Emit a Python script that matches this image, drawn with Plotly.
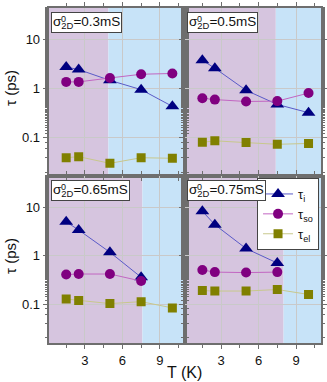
import plotly.graph_objects as go

# temperatures (K)
temps = [1.5, 2.5, 5, 7.5, 10]

# panel order: top-left, top-right, bottom-left, bottom-right
sigma_labels = ["0.3mS", "0.5mS", "0.65mS", "0.75mS"]

tau_i = [
    [2.7, 2.4, 1.45, 0.94, 0.43],
    [3.7, 2.56, 0.91, 0.47, 0.32],
    [5.1, 3.45, 1.19, 0.36, None],
    [8.5, 4.45, 1.42, 0.71, None],
]
tau_so = [
    [1.35, 1.35, 1.62, 1.93, 2.0],
    [0.63, 0.59, 0.54, 0.55, 0.80],
    [0.41, 0.42, 0.42, 0.30, None],
    [0.51, 0.46, 0.45, 0.46, None],
]
tau_el = [
    [0.039, 0.041, 0.030, 0.039, 0.038],
    [0.080, 0.086, 0.079, 0.073, 0.076],
    [0.127, 0.119, 0.102, 0.112, 0.083],
    [0.19, 0.186, 0.186, 0.20, 0.158],
]

# temperature where the purple region ends and the blue one begins
boundary = [4.88, 7.38, 7.6, 8.0]

W, H = 327, 382
PURPLE_BG = "#d6c5df"
BLUE_BG = "#c7e3f8"
AXIS_COL = "#6e6e6e"
FONT = "Liberation Sans, Arial, sans-serif"

x_dom = [[49 / W, 186 / W], [186 / W, 323 / W]]
y_dom = [[1 - 176 / H, 1 - 8 / H], [1 - 343 / H, 1 - 176 / H]]
y_rng = [[-1.78, 1.63], [-1.81, 1.66]]

series = [
    ("τ<sub>i</sub>", tau_i, "#000080", "#5a5ac8", "triangle-up", 12),
    ("τ<sub>so</sub>", tau_so, "#800080", "#c266c2", "circle", 10),
    ("τ<sub>el</sub>", tau_el, "#808000", "#c8c88c", "square", 9),
]

fig = go.Figure()
layout = {}
shapes = []
annotations = []

for p in range(4):
    row, col = divmod(p, 2)
    n = p + 1
    xa = "x" if n == 1 else f"x{n}"
    ya = "y" if n == 1 else f"y{n}"
    xkey = "xaxis" if n == 1 else f"xaxis{n}"
    ykey = "yaxis" if n == 1 else f"yaxis{n}"

    layout[xkey] = dict(
        domain=x_dom[col], anchor=ya, range=[0.1, 11.0],
        tickvals=[3, 6, 9], showticklabels=(row == 1),
        ticks="outside", ticklen=4, tickwidth=1, tickcolor=AXIS_COL,
        minor=dict(tickvals=[1.5, 4.5, 7.5, 10.5], ticks="outside", ticklen=3,
                   tickcolor=AXIS_COL, showgrid=False),
        showline=True, linecolor=AXIS_COL, linewidth=2, mirror="ticks",
        showgrid=True, gridcolor="#c9c9c9", gridwidth=1, zeroline=False,
        tickfont=dict(size=13, color="#111", family=FONT),
    )
    layout[ykey] = dict(
        domain=y_dom[row], anchor=xa, type="log", range=y_rng[row],
        tickvals=[0.1, 1, 10], ticktext=["0.1", "1", "10"],
        showticklabels=(col == 0),
        ticks="outside", ticklen=4, tickwidth=1, tickcolor=AXIS_COL,
        minor=dict(ticks="outside", ticklen=2, tickcolor=AXIS_COL, showgrid=False),
        showline=True, linecolor=AXIS_COL, linewidth=2, mirror="ticks",
        showgrid=True, gridcolor="#c9c9c9", gridwidth=1, zeroline=False,
        tickfont=dict(size=13, color="#111", family=FONT),
    )

    shapes.append(dict(type="rect", xref=xa, yref=f"{ya} domain", layer="below",
                       x0=0.1, x1=boundary[p], y0=0, y1=1,
                       fillcolor=PURPLE_BG, line=dict(width=0)))
    shapes.append(dict(type="rect", xref=xa, yref=f"{ya} domain", layer="below",
                       x0=boundary[p], x1=11.0, y0=0, y1=1,
                       fillcolor=BLUE_BG, line=dict(width=0)))

    for name, data, mcol, lcol, sym, size in series:
        fig.add_trace(go.Scatter(
            x=temps, y=data[p], xaxis=xa, yaxis=ya, mode="lines+markers",
            name=name, showlegend=(p == 3), connectgaps=False,
            line=dict(color=lcol, width=1),
            marker=dict(color=mcol, symbol=sym, size=size, line=dict(width=0)),
        ))

    annotations.append(dict(
        text="σ<sub>2D</sub>=" + sigma_labels[p], xref=f"{xa} domain", yref=f"{ya} domain",
        x=0.015, y=0.975, xanchor="left", yanchor="top", showarrow=False,
        font=dict(size=13.5, color="#111", family=FONT),
        bgcolor="white", bordercolor="#444", borderwidth=1, borderpad=1,
    ))
    annotations.append(dict(
        text="0", xref=f"{xa} domain", yref=f"{ya} domain",
        x=0.108, y=0.975, xanchor="center", yanchor="top", showarrow=False,
        font=dict(size=9, color="#111", family=FONT),
    ))

for yc in [88, 256]:
    annotations.append(dict(
        text="τ (ps)", xref="paper", yref="paper", x=10 / W, y=1 - yc / H,
        xanchor="center", yanchor="middle", textangle=-90, showarrow=False,
        font=dict(size=15, color="#111", family=FONT),
    ))
annotations.append(dict(
    text="T (K)", xref="paper", yref="paper", x=186 / W, y=1 - 372 / H,
    xanchor="center", yanchor="middle", showarrow=False,
    font=dict(size=16, color="#111", family=FONT),
))

fig.update_layout(
    width=W, height=H, margin=dict(l=0, r=0, t=0, b=0),
    paper_bgcolor="white", plot_bgcolor="white",
    shapes=shapes, annotations=annotations,
    legend=dict(x=321 / W, y=1 - 178 / H, xanchor="right", yanchor="top",
                bgcolor="white", bordercolor="#444", borderwidth=1,
                font=dict(size=13, color="#111", family=FONT),
                itemwidth=30, tracegroupgap=0, itemsizing="trace"),
    **layout,
)

# the default page has an 8px body margin; drop it so the figure fills the window
fig.write_html("out.html", config={"displayModeBar": False},
               post_script="document.body.style.margin='0';")
